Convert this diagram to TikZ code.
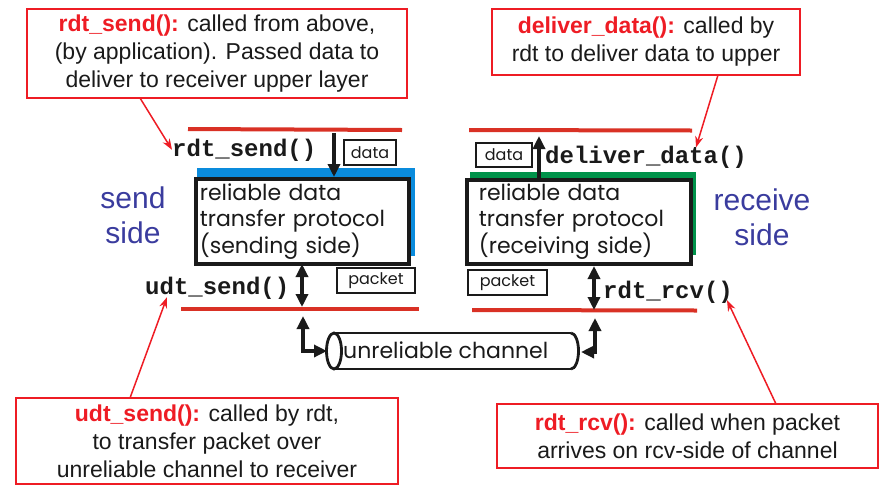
\documentclass[tikz,border=0pt]{standalone}
\usepackage{fontspec}
\setmainfont{Liberation Sans}
\setmonofont{Liberation Mono}
\newfontfamily\geo{Poppins}
\usetikzlibrary{arrows.meta}
\definecolor{cred}{HTML}{EE1C24}
\definecolor{lred}{HTML}{D93125}
\definecolor{sblue}{HTML}{0A8BDC}
\definecolor{sgreen}{HTML}{00924A}
\definecolor{tblue}{HTML}{3A3C9E}
\definecolor{ink}{HTML}{1A1A1A}
\tikzset{
  callout/.style={draw=cred, line width=1.8pt, align=center, inner sep=0pt,
    font=\fontsize{23}{28}\selectfont, text=ink},
  callarrow/.style={draw=cred, line width=1.5pt, -{Stealth[length=11pt,width=8pt]}},
  fname/.style={font=\fontsize{24}{24}\selectfont\ttfamily\bfseries, text=ink, inner sep=0pt},
  rline/.style={draw=lred, line width=4pt},
  proto/.style={draw=ink, fill=white, line width=3.6pt, align=left, anchor=north west,
    inner xsep=3pt, inner ysep=0pt, font=\geo\fontsize{22}{26}\selectfont, text=ink},
  smallbox/.style={draw=ink, line width=2.8pt, inner sep=0pt, font=\geo\fontsize{16}{16}\selectfont, text=ink},
  barrow/.style={draw=ink, line width=3.3pt, -{Triangle[length=13pt,width=12pt]}},
  bdarrow/.style={draw=ink, line width=3.3pt, {Triangle[length=13pt,width=12pt]}-{Triangle[length=13pt,width=12pt]}},
  side/.style={font=\fontsize{30}{35}\selectfont, text=tblue, align=center},
}
\begin{document}
\begin{tikzpicture}[x=1pt,y=-1pt]
\useasboundingbox (0,0) rectangle (880,485);
% callouts
\node[callout, minimum width=380, minimum height=89] (c1) at (217,53.5)
  {{\color{cred}\bfseries rdt\_send():} called from above,\\(by application). Passed data to\\deliver to receiver upper layer};
\node[callout, minimum width=308, minimum height=66] (c2) at (646,42)
  {{\color{cred}\bfseries deliver\_data():} called by\\rdt to deliver data to upper};
\node[callout, minimum width=382, minimum height=86] (c3) at (207,441)
  {{\color{cred}\bfseries udt\_send():} called by rdt,\\to transfer packet over\\unreliable channel to receiver};
\node[callout, minimum width=381, minimum height=64] (c4) at (687.5,436)
  {{\color{cred}\bfseries rdt\_rcv():} called when packet\\arrives on rcv-side of channel};
% red layer lines
\draw[rline] (188,129) -- (402,130);
\draw[rline] (181,308.5) -- (419,308.5);
\draw[rline] (469,130) -- (692,130.5);
\draw[rline] (472,310) -- (697,310.5);
% function names
\node[fname, anchor=base west] (rs) at (172,156) {rdt\_send()};
\node[fname, anchor=base west] (us) at (145,294) {udt\_send()};
\node[fname, anchor=base west] (dd) at (545,163) {deliver\_data()};
\node[fname, anchor=base west] (rr) at (603,298) {rdt\_rcv()};
% shadows and protocol boxes
\fill[sblue] (197,168) rectangle (415,256);
\node[proto, minimum width=213, minimum height=85, text width=205] (sb) at (194,177)
  {reliable data\\transfer protocol\\(sending side)};
\fill[sgreen] (470,172) rectangle (696,255);
\node[proto, minimum width=222, minimum height=84, text width=200, inner xsep=12pt] (rb) at (465,178)
  {reliable data\\transfer protocol\\(receiving side)};
% side labels
\node[side] (ss) at (133,215) {send\\side};
\node[side] (rsd) at (762,217) {receive\\side};
% small boxes
\node[smallbox, minimum width=52, minimum height=25] (d1) at (370,152.5) {data};
\node[smallbox, minimum width=56, minimum height=24] (d2) at (504,155) {data};
\node[smallbox, minimum width=78, minimum height=25] (p1) at (376,280.5) {packet};
\node[smallbox, minimum width=79, minimum height=25] (p2) at (507.5,282.5) {packet};
% coordinates for arrows
\coordinate (t1) at (334,133);
\coordinate (t1b) at (334,177);
\coordinate (u1) at (302,264);
\coordinate (u2) at (302,307);
\coordinate (v1) at (539,178);
\coordinate (v2) at (539,136);
\coordinate (w1) at (594,266);
\coordinate (w2) at (594,310);
\draw[barrow] (t1) -- (t1b);
\draw[bdarrow] (u1) -- (u2);
\draw[barrow] (v1) -- (v2);
\draw[bdarrow] (w1) -- (w2);
% channel
\draw[ink, line width=2.8pt] (571,333) -- (334,333);
\draw[ink, line width=2.8pt] (334,369) -- (571,369);
\draw[ink, line width=2.8pt, fill=white] (334,351) ellipse [x radius=7.5, y radius=18];
\draw[ink, line width=2.8pt] (571,333) arc [start angle=-90, end angle=90, x radius=7.5, y radius=18];
\node[font=\geo\fontsize{22}{22}\selectfont, text=ink, anchor=west, inner sep=0pt] (ch) at (343,350) {unreliable channel};
\coordinate (chl) at (327,351);
\coordinate (chr) at (581,352);
\coordinate (cl) at (303,316);
\coordinate (cr) at (595,318);
\draw[bdarrow] (cl) |- (chl);
\draw[bdarrow] (cr) |- (chr);
% callout arrows
\coordinate (a1) at (140,98);
\coordinate (a2) at (718,75);
\coordinate (a3) at (130,398);
\coordinate (a4) at (776,404);
\draw[callarrow] (a1) -- (rs.west);
\draw[callarrow] (a2) -- ([xshift=50pt,yshift=-2pt]dd.north);
\draw[callarrow] (a3) -- ([xshift=22pt,yshift=2pt]us.south west);
\draw[callarrow] (a4) -- ([xshift=-6pt,yshift=3pt]rr.south east);
\end{tikzpicture}
\end{document}
